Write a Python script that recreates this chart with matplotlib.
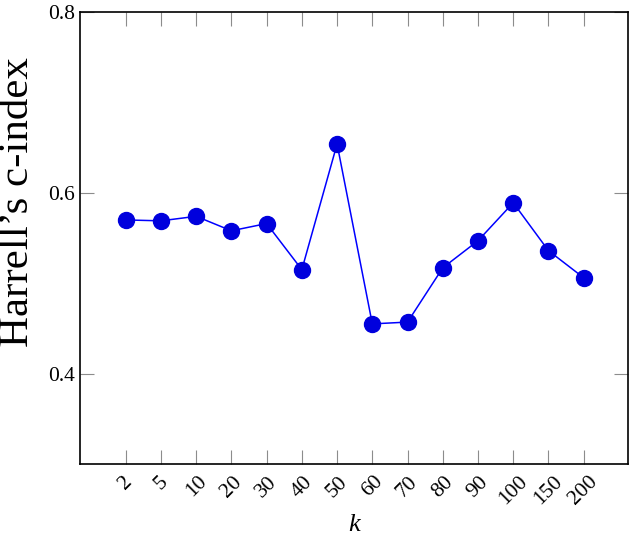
import matplotlib
matplotlib.use("Agg")
import matplotlib.pyplot as plt

# --- data ---
k_labels = ["2", "5", "10", "20", "30", "40", "50", "60", "70", "80", "90", "100", "150", "200"]
c_index = [0.570, 0.569, 0.574, 0.558, 0.566, 0.515, 0.654, 0.455, 0.457, 0.517, 0.547, 0.589, 0.536, 0.506]

plt.rcParams["font.family"] = "serif"
plt.rcParams["font.serif"] = ["Liberation Serif", "DejaVu Serif"]

fig = plt.figure(figsize=(6.29, 5.41), dpi=100)
ax = fig.add_axes([0.127, 0.1423, 0.871, 0.8355])

pos = list(range(len(k_labels)))
ax.plot(pos, c_index, color="#0000ff", linewidth=1.1,
        marker="o", markersize=11.5, markerfacecolor="#0000dd",
        markeredgecolor="#0000dd", zorder=3)

ax.set_xlim(-1.3, 14.25)
ax.set_ylim(0.3, 0.8)
ax.set_xticks(pos)
ax.set_xticklabels(k_labels, rotation=45, ha="center", va="top")
ax.set_yticks([0.4, 0.6, 0.8])
ax.set_yticklabels(["0.4", "0.6", "0.8"])

ax.tick_params(direction="in", length=10, width=0.8, color="#8c8c8c",
               top=True, right=True, labelsize=15.5)
ax.tick_params(axis="x", pad=6)
for s in ax.spines.values():
    s.set_linewidth(1.2)

ax.set_ylabel("Harrell\u2019s c-index", fontsize=31, va="center")
ax.yaxis.set_label_coords(-0.113, 0.58)
ax.set_xlabel("k", fontsize=19, fontstyle="italic", labelpad=4)

fig.savefig("out.png", dpi=100)
plt.close(fig)
